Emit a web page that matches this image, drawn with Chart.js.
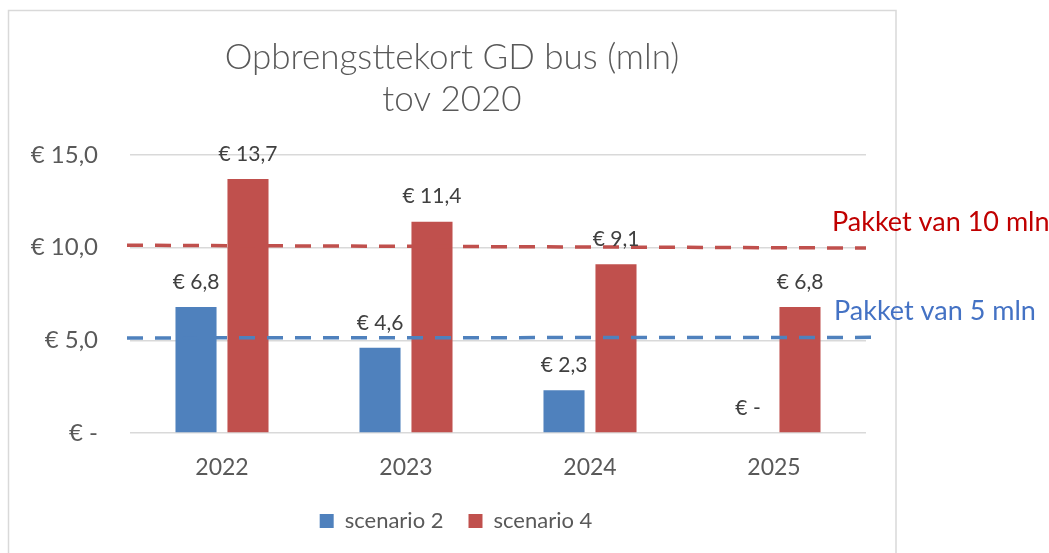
<!DOCTYPE html>
<html>
<head>
<meta charset="utf-8">
<script src="https://cdn.jsdelivr.net/npm/chart.js@4/dist/chart.umd.min.js"></script>
<style>
  html, body { margin: 0; padding: 0; background: #ffffff; }
  #wrap { width: 1049px; height: 553px; }
</style>
</head>
<body>
<div id="wrap"><canvas id="c" width="1049" height="553"></canvas></div>
<script>
const categories = ['2022', '2023', '2024', '2025'];
const scenario2 = [6.8, 4.6, 2.3, 0];
const scenario4 = [13.7, 11.4, 9.1, 6.8];
const pakket10 = [10.13, 9.98];   // dashed reference line: value at left end, value at right end
const pakket5 = [5.13, 5.16];
const yTicks = [0, 5, 10, 15];
const titleLines = ['Opbrengsttekort GD bus (mln)', 'tov 2020'];
const seriesNames = ['scenario 2', 'scenario 4'];
const pakketNames = ['Pakket van 10 mln', 'Pakket van 5 mln'];

const BLUE = '#4F81BD', RED = '#C0504D', GREY = '#595959', GRID = '#D9D9D9';
const FONT = 'Lato, "Open Sans", sans-serif';

function euro(v) {
  return v === 0 ? '€ -' : '€ ' + v.toFixed(1).replace('.', ',');
}

const frame = {
  id: 'frame',
  beforeDraw(chart) {
    const c = chart.ctx;
    c.save();
    c.fillStyle = '#ffffff';
    c.fillRect(0, 0, chart.width, chart.height);
    c.strokeStyle = GRID;
    c.lineWidth = 1.5;
    c.strokeRect(8.5, 10.5, 887.5, chart.height + 10);
    c.restore();
  },
  afterLayout(chart) {
    // centre title and legend on the outer chart frame, as in the original
    const t = chart.titleBlock;
    if (t) { t.left += 14; t.right += 14; }
    const l = chart.legend;
    if (l) { l.left += 18; l.right += 18; }
  }
};

const overlay = {
  id: 'overlay',
  afterDatasetsDraw(chart) {
    const c = chart.ctx;
    const y = chart.scales.y;
    const area = chart.chartArea;
    c.save();
    // dashed reference lines
    c.lineWidth = 3.5;
    c.setLineDash([16, 12]);
    c.strokeStyle = RED;
    c.beginPath();
    c.moveTo(area.left - 3, y.getPixelForValue(pakket10[0]));
    c.lineTo(area.right, y.getPixelForValue(pakket10[1]));
    c.stroke();
    c.strokeStyle = BLUE;
    c.beginPath();
    c.moveTo(area.left - 3, y.getPixelForValue(pakket5[0]));
    c.lineTo(area.right + 6, y.getPixelForValue(pakket5[1]));
    c.stroke();
    c.setLineDash([]);
    // value labels
    c.font = '21px ' + FONT;
    c.fillStyle = '#404040';
    c.textAlign = 'center';
    c.textBaseline = 'middle';
    [0, 1].forEach(di => {
      const meta = chart.getDatasetMeta(di);
      const vals = chart.data.datasets[di].data;
      meta.data.forEach((el, i) => {
        c.fillText(euro(vals[i]), el.x, el.y - 25);
      });
    });
    // pakket labels
    c.textAlign = 'left';
    c.font = '27px ' + FONT;
    c.fillStyle = '#C00000';
    c.fillText(pakketNames[0], area.right - 34, y.getPixelForValue(pakket10[1]) - 26);
    c.fillStyle = '#4472C4';
    c.fillText(pakketNames[1], area.right - 32, y.getPixelForValue(pakket5[1]) - 26);
    c.restore();
  }
};

new Chart(document.getElementById('c'), {
  type: 'bar',
  data: {
    labels: categories,
    datasets: [
      { label: seriesNames[0], data: scenario2, backgroundColor: BLUE,
        categoryPercentage: 0.565, barPercentage: 0.79 },
      { label: seriesNames[1], data: scenario4, backgroundColor: RED,
        categoryPercentage: 0.565, barPercentage: 0.79 }
    ]
  },
  options: {
    responsive: false,
    animation: false,
    layout: { padding: { left: 10, right: 183, top: 0, bottom: 11 } },
    scales: {
      x: {
        grid: { display: false, drawTicks: false },
        border: { display: false },
        ticks: { color: GREY, font: { family: FONT, size: 23 }, padding: 21 },
        afterFit(s) { s.height = 52; }
      },
      y: {
        min: 0, max: 15,
        afterBuildTicks(s) { s.ticks = yTicks.map(v => ({ value: v })); },
        grid: { color: GRID, lineWidth: 1.5, drawTicks: false },
        border: { display: false },
        ticks: { color: GREY, font: { family: FONT, size: 24 }, padding: 32, callback: v => euro(v) },
        afterFit(s) { s.width = 120; }
      }
    },
    plugins: {
      title: {
        display: true,
        text: titleLines,
        color: GREY,
        font: { family: FONT, size: 35, weight: 300, lineHeight: '42px' },
        padding: { top: 37, bottom: 34 }
      },
      legend: {
        display: true,
        position: 'bottom',
        labels: {
          color: GREY,
          font: { family: FONT, size: 22 },
          boxWidth: 14, boxHeight: 14, padding: 25
        }
      },
      tooltip: { enabled: false }
    }
  },
  plugins: [frame, overlay]
});
</script>
</body>
</html>
